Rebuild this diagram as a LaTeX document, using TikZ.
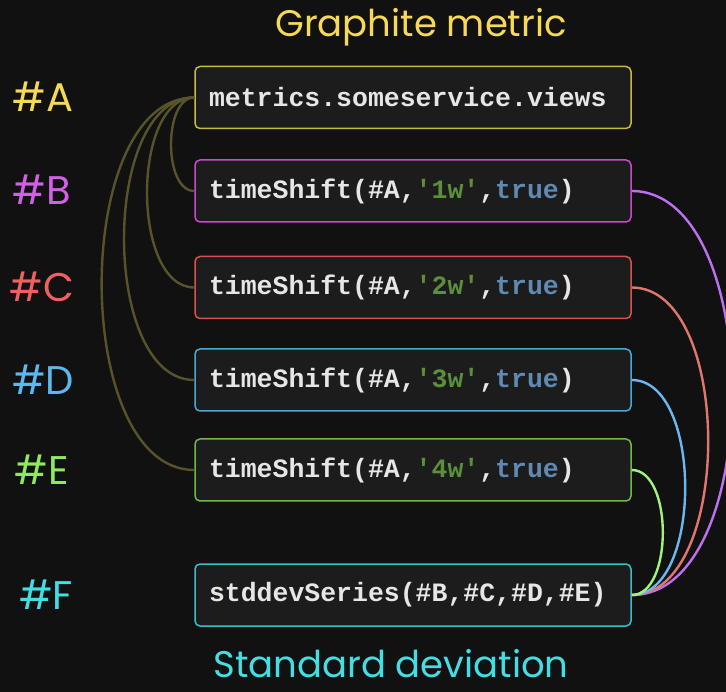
\documentclass[tikz,border=0pt]{standalone}
\usepackage{fontspec}
\setmainfont{Poppins}
\setmonofont{Liberation Mono}
\usetikzlibrary{positioning}
\definecolor{bg}{HTML}{111111}
\definecolor{boxbg}{HTML}{1C1C1C}
\definecolor{code}{HTML}{E6E6E6}
\definecolor{strg}{HTML}{5B8F3A}
\definecolor{kw}{HTML}{5E8AB4}
\definecolor{olive}{HTML}{57532A}
\definecolor{yelA}{HTML}{F5D957}
\definecolor{bordA}{HTML}{C8BC36}
\definecolor{magB}{HTML}{D35FE8}
\definecolor{bordB}{HTML}{CC48D0}
\definecolor{lineB}{HTML}{BF6FF2}
\definecolor{redC}{HTML}{F06060}
\definecolor{bordC}{HTML}{D9534A}
\definecolor{lineC}{HTML}{E0776E}
\definecolor{bluD}{HTML}{5BB8F0}
\definecolor{bordD}{HTML}{4AA8D8}
\definecolor{lineD}{HTML}{6CB8EE}
\definecolor{grnE}{HTML}{8FE85E}
\definecolor{bordE}{HTML}{6FB84A}
\definecolor{lineE}{HTML}{A3F27A}
\definecolor{cyaF}{HTML}{44DDE4}
\definecolor{bordF}{HTML}{35C0C8}
\newcommand*{\codefont}{\ttfamily\bfseries\fontsize{26.5}{30}\selectfont}
\newcommand*{\tagfont}{\fontsize{40}{44}\selectfont}
\newcommand*{\headfont}{\fontsize{37}{40}\selectfont}
\newcommand*{\shift}[1]{timeShift(\#A,\textcolor{strg}{'#1'},\textcolor{kw}{true})}

\begin{document}
\begin{tikzpicture}[x=1pt, y=-1pt,
		box/.style={draw, line width=1.5pt, rounded corners=5pt, fill=boxbg,
			minimum width=436pt, minimum height=62pt, text width=408pt,
			inner xsep=14pt, align=left, text=code, font=\codefont},
		tag/.style={font=\tagfont},
		link/.style={line width=2.4pt, looseness=0.85}]
		\path[use as bounding box, fill=bg] (0,0) rectangle (726,692);
		
		\node[text=yelA, font=\headfont] (head) at (421,27) {Graphite metric};
		\node[text=cyaF, font=\headfont, inner sep=0pt] (foot) at (391,664) {Standard deviation};
		
		\node[box, draw=bordA] (A) at (413,97.5) {metrics.someservice.views};
		\node[box, draw=bordB] (B) at (413,191) {\shift{1w}};
		\node[box, draw=bordC] (C) at (413,287.5) {\shift{2w}};
		\node[box, draw=bordD] (D) at (413,380) {\shift{3w}};
		\node[box, draw=bordE] (E) at (413,470) {\shift{4w}};
		\node[box, draw=bordF] (F) at (413,595) {stddevSeries(\#B,\#C,\#D,\#E)};
		
		\node[tag, text=yelA] (labA) at (43,97) {\#A};
		\node[tag, text=magB] (labB) at (42,190) {\#B};
		\node[tag, text=redC] (labC) at (42,287) {\#C};
		\node[tag, text=bluD] (labD) at (43,380) {\#D};
		\node[tag, text=grnE] (labE) at (42,470) {\#E};
		\node[tag, text=cyaF] (labF) at (46,595) {\#F};
		
		% timeShift inputs
		\foreach \n in {B,C,D,E}
		\draw[link, olive] (A.west) to[out=180, in=180] (\n.west);
		
		% stddev inputs
		\draw[link, lineB] (B.east) to[out=0, in=0] (F.east);
		\draw[link, lineC] (C.east) to[out=0, in=0] (F.east);
		\draw[link, lineD] (D.east) to[out=0, in=0] (F.east);
		\draw[link, lineE] (E.east) to[out=0, in=0] (F.east);
\end{tikzpicture}
\end{document}
